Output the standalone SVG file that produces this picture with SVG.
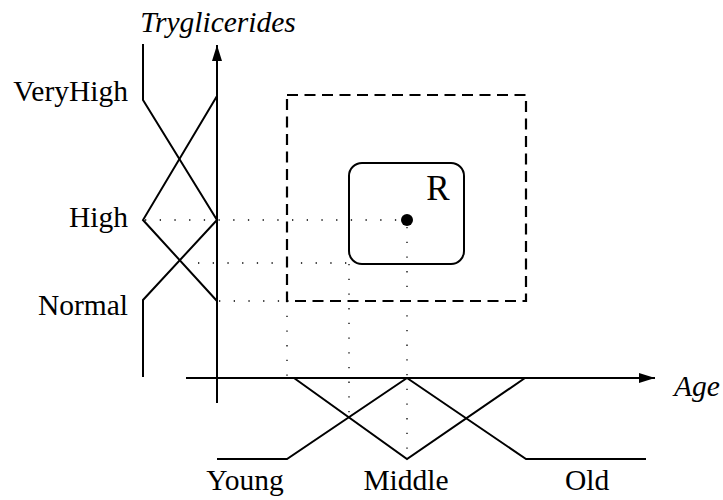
<svg xmlns="http://www.w3.org/2000/svg" width="723" height="500" viewBox="0 0 723 500">
<defs>
<style>
.ln{fill:none;stroke:#000;stroke-width:2;stroke-linejoin:miter}
.dot{fill:none;stroke:#000;stroke-width:1.3;stroke-dasharray:1.3 13.4}
.dash{fill:none;stroke:#000;stroke-width:2.2;stroke-dasharray:11 6.5}
.t{font-size:29.5px;fill:#000}
.it{font-style:italic}
</style>
<marker id="ah" markerWidth="16" markerHeight="10" refX="16" refY="5" orient="auto" markerUnits="userSpaceOnUse">
<path d="M0,0 L16,5 L0,10 Z" fill="#000"/>
</marker>
</defs>
<rect width="723" height="500" fill="#fff"/>
<g id="connectors">
<line class="dot" x1="145" y1="220" x2="400" y2="220"/>
<line class="dot" x1="198" y1="263" x2="349" y2="263"/>
<line class="dot" x1="219" y1="301" x2="287" y2="301"/>
<line class="dot" x1="287" y1="301" x2="287" y2="378"/>
<line class="dot" x1="349" y1="264" x2="349" y2="417"/>
<line class="dot" x1="407" y1="227" x2="407" y2="459"/>
<line class="ln" x1="217" y1="403" x2="217" y2="45" marker-end="url(#ah)"/>
<line class="ln" x1="186" y1="378" x2="655" y2="378" marker-end="url(#ah)"/>
</g>
<g id="tryglicerides-sets">
<polyline class="ln" points="143,44 143,100 217,220"/>
<polyline class="ln" points="217,96 143,220 217,301"/>
<polyline class="ln" points="217,220 143,300 143,377"/>
</g>
<g id="age-sets">
<polyline class="ln" points="217,459 287,459 407,378"/>
<polyline class="ln" points="294,378 407,459 525,378"/>
<polyline class="ln" points="407,378 526,459 646,459"/>
</g>
<g id="region">
<rect class="dash" x="287" y="95" width="239" height="206"/>
</g>
<g id="R" font-family="Liberation Serif, Times New Roman, serif">
<rect class="ln" x="349" y="163" width="115" height="101" rx="13" ry="13"/>
<circle cx="407" cy="220" r="6" fill="#000"/>
<text x="438" y="200" text-anchor="middle" font-size="35">R</text>
</g>
<g id="labels" font-family="Liberation Serif, Times New Roman, serif">
<text class="t it" x="218" y="32" text-anchor="middle">Tryglicerides</text>
<text class="t it" x="674" y="396">Age</text>
<text class="t" x="128" y="101" text-anchor="end">VeryHigh</text>
<text class="t" x="128" y="227" text-anchor="end">High</text>
<text class="t" x="128" y="315" text-anchor="end">Normal</text>
<text class="t" x="245" y="490" text-anchor="middle">Young</text>
<text class="t" x="406" y="490" text-anchor="middle">Middle</text>
<text class="t" x="587" y="490" text-anchor="middle">Old</text>
</g>
</svg>
